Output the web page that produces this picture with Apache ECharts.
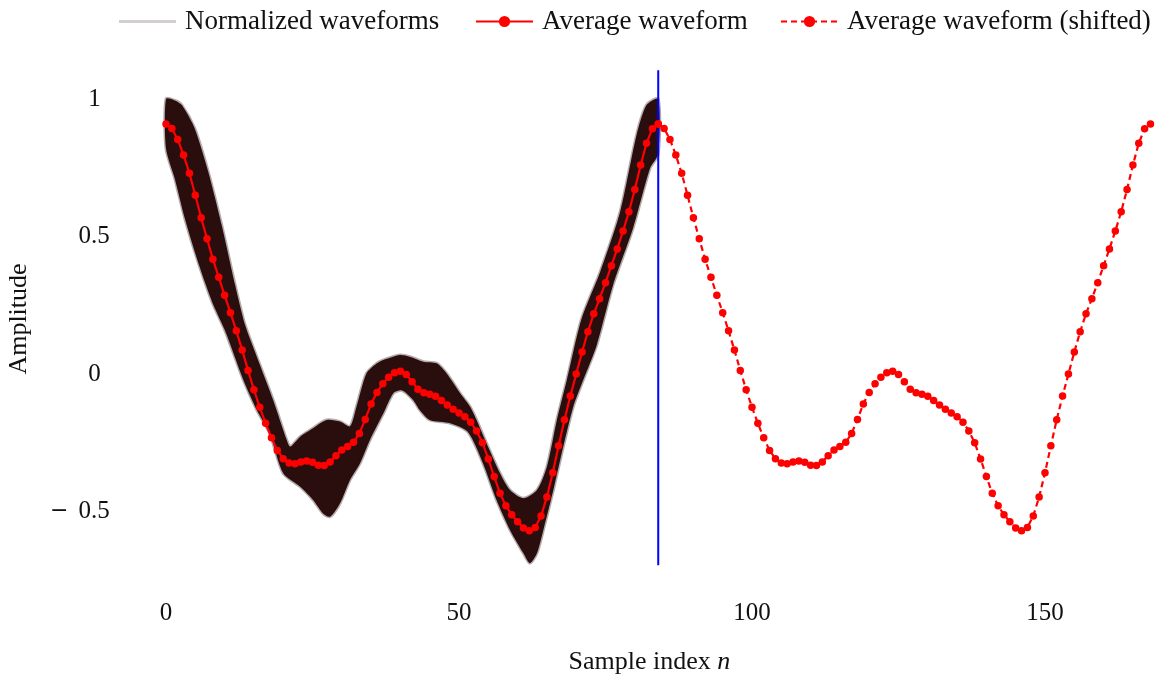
<!DOCTYPE html>
<html>
<head>
<meta charset="utf-8">
<script src="https://cdn.jsdelivr.net/npm/echarts@6/dist/echarts.min.js"></script>
<style>
html,body{margin:0;padding:0;background:#fff;}
#chart{width:1171px;height:677px;}
</style>
</head>
<body>
<div id="chart"></div>
<script>
// ---- data ----
// average waveform, samples n = 0..84
const avgWave = [
  0.909, 0.893, 0.853, 0.796, 0.730, 0.650, 0.568, 0.492, 0.417, 0.352,
  0.286, 0.223, 0.157, 0.087, 0.013, -0.057, -0.121, -0.179, -0.232, -0.278,
  -0.308, -0.324, -0.326, -0.320, -0.316, -0.321, -0.332, -0.333, -0.320, -0.297,
  -0.276, -0.264, -0.248, -0.216, -0.165, -0.109, -0.067, -0.035, -0.012, 0.005,
  0.010, -0.002, -0.028, -0.055, -0.068, -0.074, -0.081, -0.096, -0.113, -0.128,
  -0.142, -0.155, -0.175, -0.207, -0.250, -0.309, -0.373, -0.434, -0.479, -0.512,
  -0.537, -0.560, -0.570, -0.558, -0.516, -0.447, -0.359, -0.261, -0.166, -0.080,
  0.000, 0.080, 0.154, 0.219, 0.274, 0.332, 0.394, 0.455, 0.520, 0.590,
  0.671, 0.760, 0.839, 0.892, 0.909
];
const shiftBy = 84;

// envelope of the normalized waveforms (upper edge)
const bandUpperN = [0, 1.5, 2.7, 4.9, 7.2, 9.5, 11.8, 13.5, 15.5, 18.3, 20.6, 21.2, 22.9, 24.6, 27.4, 29.7, 31.4, 32.5, 34.2, 36, 37.1, 39.9, 41.6, 43.9, 46.2, 47.9, 50.2, 51.9, 53, 54.7, 57, 58.7, 61, 63.3, 65, 66.7, 68.4, 70.9, 74.1, 77.5, 80.3, 82, 84];
const bandUpper  = [1.0, 0.995, 0.978, 0.893, 0.736, 0.542, 0.324, 0.178, 0.063, -0.095, -0.24, -0.264, -0.228, -0.204, -0.167, -0.173, -0.19, -0.119, 0.002, 0.039, 0.051, 0.069, 0.063, 0.045, 0.039, 0.002, -0.07, -0.119, -0.167, -0.252, -0.361, -0.422, -0.452, -0.422, -0.337, -0.167, -0.022, 0.2, 0.372, 0.59, 0.869, 0.978, 1.0];
// envelope of the normalized waveforms (lower edge)
const bandLowerN = [0, 1.5, 3.2, 4.9, 6.7, 8.1, 10.1, 13.2, 15.5, 17.7, 20, 22.9, 25.1, 26.8, 28, 29.7, 31.4, 33.1, 34.8, 37.1, 38.8, 40.3, 42.2, 43.3, 45, 48.5, 51.5, 54.1, 56.4, 58.7, 61, 62.1, 63.3, 64.4, 66.1, 67.8, 69.5, 71.2, 73.5, 76.3, 79.7, 82.6, 84];
const bandLower  = [0.82, 0.71, 0.566, 0.445, 0.33, 0.25, 0.156, -0.022, -0.131, -0.216, -0.361, -0.41, -0.458, -0.507, -0.519, -0.47, -0.385, -0.325, -0.24, -0.143, -0.07, -0.06, -0.095, -0.131, -0.167, -0.179, -0.21, -0.325, -0.458, -0.567, -0.652, -0.688, -0.652, -0.567, -0.422, -0.264, -0.119, -0.022, 0.105, 0.324, 0.53, 0.748, 0.80];

// vertical marker
const markerN = [84, 84];
const markerY = [1.105, -0.695];

const xTicks = [0, 50, 100, 150];
const yTicks = [-0.5, 0, 0.5, 1];

// ---- build series data ----
const avgData = avgWave.map((v, i) => [i, v]);
const shiftedData = avgWave.map((v, i) => [i + shiftBy, v]);
const markerData = markerN.map((n, i) => [n, markerY[i]]);

const FONT = '"Liberation Serif", "Times New Roman", serif';
const chart = echarts.init(document.getElementById('chart'), null, {renderer: 'canvas'});

const legendBase = {
  top: 3, itemWidth: 57, itemHeight: 14,
  textStyle: {fontFamily: FONT, fontSize: 27, color: '#111', padding: [0, 0, 0, 4]},
  selectedMode: false
};

function yLabel(v) {
  if (v < 0) return '{m|\u2212}{t|' + Math.abs(v) + '}';
  if (Number.isInteger(v)) return '{t|' + v + '}{s|}';
  return '{t|' + v + '}';
}

chart.setOption({
  animation: false,
  backgroundColor: '#fff',
  grid: {left: 136.7, right: 8.8, top: 44, bottom: 83, outerBoundsMode: 'none', containLabel: false},
  legend: [
    Object.assign({}, legendBase, {left: 114, itemHeight: 3, data: [{name: 'Normalized waveforms', icon: 'rect'}]}),
    Object.assign({}, legendBase, {left: 470, data: ['Average waveform']}),
    Object.assign({}, legendBase, {left: 775, data: ['Average waveform (shifted)']})
  ],
  xAxis: {
    type: 'value', min: -5, max: 170,
    axisLine: {show: false}, axisTick: {show: false}, splitLine: {show: false},
    axisLabel: {customValues: xTicks, fontFamily: FONT, fontSize: 25, color: '#111', margin: 7},
    name: '{a|Sample index }{b|n}',
    nameLocation: 'middle', nameGap: 55,
    nameTextStyle: {
      fontFamily: FONT, fontSize: 26, color: '#111',
      rich: {
        a: {fontFamily: FONT, fontSize: 26, color: '#111'},
        b: {fontFamily: FONT, fontSize: 26, color: '#111', fontStyle: 'italic'}
      }
    }
  },
  yAxis: {
    type: 'value', min: -0.8, max: 1.2,
    axisLine: {show: false}, axisTick: {show: false}, splitLine: {show: false},
    axisLabel: {
      customValues: yTicks, color: '#111', margin: 27,
      formatter: yLabel,
      rich: {
        t: {fontFamily: FONT, fontSize: 25, color: '#111'},
        m: {fontFamily: '"DejaVu Sans", sans-serif', fontSize: 22, color: '#111', padding: [0, 10, 0, 0]},
        s: {width: 9}
      }
    },
    name: 'Amplitude', nameLocation: 'middle', nameGap: 105, nameRotate: 90,
    nameTextStyle: {fontFamily: FONT, fontSize: 26, color: '#111'}
  },
  series: [
    {
      name: 'Normalized waveforms', type: 'line', data: [],
      symbol: 'none', itemStyle: {color: 'rgba(60,30,30,0.22)'},
      lineStyle: {color: 'rgba(60,30,30,0.22)', width: 2.5}
    },
    {
      type: 'custom', silent: true, z: 1, data: [[0, 0]],
      renderItem: function (params, api) {
        const pts = [];
        for (let i = 0; i < bandUpperN.length; i++) pts.push(api.coord([bandUpperN[i], bandUpper[i]]));
        for (let i = bandLowerN.length - 1; i >= 0; i--) pts.push(api.coord([bandLowerN[i], bandLower[i]]));
        return {
          type: 'polygon',
          shape: {points: pts, smooth: 0.25},
          style: {fill: '#2a0e0e', stroke: 'rgba(42,14,14,0.35)', lineWidth: 3}
        };
      }
    },
    {
      type: 'line', data: markerData, symbol: 'none', z: 3,
      lineStyle: {color: '#0000ff', width: 2}, silent: true
    },
    {
      name: 'Average waveform', type: 'line', data: avgData, z: 4,
      symbol: 'circle', symbolSize: 7.5, showSymbol: true,
      itemStyle: {color: '#ff0000'}, lineStyle: {color: '#ff0000', width: 2.2}
    },
    {
      name: 'Average waveform (shifted)', type: 'line', data: shiftedData, z: 4,
      symbol: 'circle', symbolSize: 7.5, showSymbol: true,
      itemStyle: {color: '#ff0000'}, lineStyle: {color: '#ff0000', width: 2.2, type: [6, 4]}
    }
  ]
});
</script>
</body>
</html>
